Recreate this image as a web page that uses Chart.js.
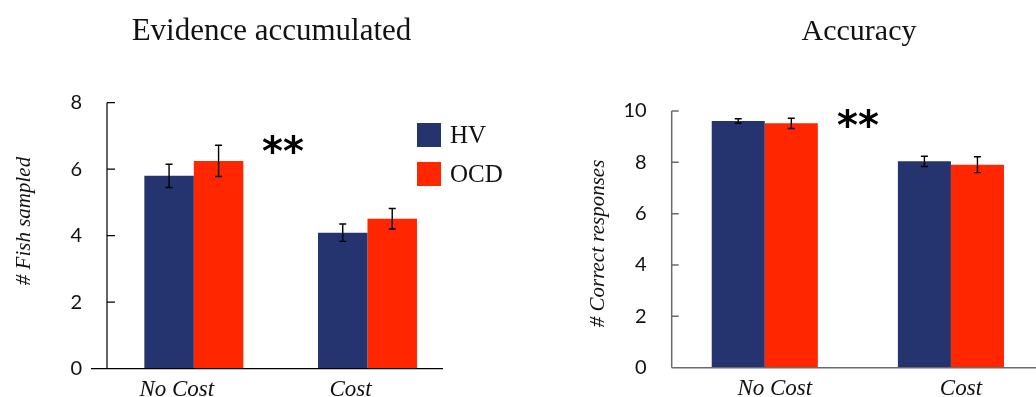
<!DOCTYPE html>
<html>
<head>
<meta charset="utf-8">
<script src="https://cdn.jsdelivr.net/npm/chart.js@4.4.1/dist/chart.umd.min.js"></script>
<style>
  html, body { margin: 0; padding: 0; background: #fff; overflow: hidden; }
  body { width: 1036px; height: 397px; position: relative; }
  #fish { position: absolute; left: 0; top: 0; }
  #acc { position: absolute; left: 518px; top: 0; }
</style>
</head>
<body>
<canvas id="fish" width="518" height="397"></canvas>
<canvas id="acc" width="540" height="397"></canvas>
<script>
// Conditions and groups
const categories = ['No Cost', 'Cost'];
const groups = ['HV', 'OCD'];
const groupColors = ['#25346f', '#ff2600'];

// Evidence accumulated: mean number of fish sampled, with error bars
const fishHV = [5.80, 4.09];
const fishOCD = [6.25, 4.51];
const fishHVErr = [0.35, 0.26];
const fishOCDErr = [0.47, 0.31];
const fishTicks = [0, 2, 4, 6, 8];

// Accuracy: mean number of correct responses, with error bars
const accHV = [9.61, 8.04];
const accOCD = [9.52, 7.91];
const accHVErr = [0.09, 0.20];
const accOCDErr = [0.20, 0.31];
const accTicks = [0, 2, 4, 6, 8, 10];

const SERIF = '"Liberation Serif", "DejaVu Serif", serif';
const SANS = 'Lato, "Open Sans", sans-serif';

// Axis lines, inward tick marks, error bars and annotation text
const decorations = {
  id: 'decorations',
  afterDatasetsDraw(chart, args, o) {
    const {ctx, chartArea} = chart;
    const y = chart.scales.y;
    ctx.save();
    // error bars
    ctx.strokeStyle = '#000';
    ctx.lineWidth = 1.4;
    chart.data.datasets.forEach((ds, i) => {
      chart.getDatasetMeta(i).data.forEach((bar, j) => {
        const v = ds.data[j], e = ds.errors[j];
        const t = y.getPixelForValue(v + e), b = y.getPixelForValue(v - e);
        ctx.beginPath();
        ctx.moveTo(bar.x, t); ctx.lineTo(bar.x, b);
        ctx.moveTo(bar.x - 3.5, t); ctx.lineTo(bar.x + 3.5, t);
        ctx.moveTo(bar.x - 3.5, b); ctx.lineTo(bar.x + 3.5, b);
        ctx.stroke();
      });
    });
    // axes
    ctx.strokeStyle = o.axisColor;
    ctx.lineWidth = o.axisWidth;
    const y0 = y.getPixelForValue(0);
    ctx.beginPath();
    ctx.moveTo(o.xFrom, y0); ctx.lineTo(o.xTo, y0);
    ctx.moveTo(chartArea.left, y0); ctx.lineTo(chartArea.left, y.getPixelForValue(y.max));
    y.ticks.forEach((tk) => {
      const py = y.getPixelForValue(tk.value);
      ctx.moveTo(chartArea.left, py); ctx.lineTo(chartArea.left + o.tickLen, py);
    });
    ctx.stroke();
    ctx.restore();
  },
  afterDraw(chart, args, o) {
    const {ctx} = chart;
    ctx.save();
    ctx.fillStyle = '#111';
    // chart title
    ctx.font = o.titleSize + 'px ' + SERIF;
    ctx.textAlign = 'center';
    ctx.textBaseline = 'alphabetic';
    ctx.fillText(o.title, o.titleX, 40);
    // y axis title
    ctx.save();
    ctx.translate(o.yTitleX, o.yTitleY);
    ctx.rotate(-Math.PI / 2);
    ctx.font = 'italic 21px ' + SERIF;
    ctx.textBaseline = 'middle';
    ctx.fillText(o.yTitle, 0, 0);
    ctx.restore();
    // significance marker
    ctx.fillStyle = '#000';
    ctx.font = 'bold 40px "DejaVu Sans", sans-serif';
    ctx.textAlign = 'left';
    ctx.textBaseline = 'top';
    ctx.fillText('**', o.starX, o.starY);
    // legend
    if (o.legend) {
      chart.data.datasets.forEach((ds, i) => {
        const ly = o.legend.y + i * 39;
        ctx.fillStyle = ds.backgroundColor;
        ctx.fillRect(o.legend.x, ly, 24, 24);
        ctx.fillStyle = '#111';
        ctx.font = '25px ' + SERIF;
        ctx.textBaseline = 'middle';
        ctx.fillText(ds.label, o.legend.x + 33, ly + 13);
      });
    }
    ctx.restore();
  }
};

function makeChart(id, hv, ocd, hvErr, ocdErr, ticks, cfg) {
  return new Chart(document.getElementById(id), {
    type: 'bar',
    data: {
      labels: categories,
      datasets: [
        { label: groups[0], data: hv, errors: hvErr, backgroundColor: groupColors[0] },
        { label: groups[1], data: ocd, errors: ocdErr, backgroundColor: groupColors[1] }
      ]
    },
    options: {
      responsive: false,
      animation: false,
      devicePixelRatio: 1,
      layout: { padding: cfg.padding },
      datasets: { bar: { categoryPercentage: 0.57, barPercentage: 1.0 } },
      scales: {
        x: {
          grid: { display: false },
          border: { display: false },
          ticks: {
            color: '#111',
            font: { family: SERIF, size: 23, style: 'italic' },
            padding: -1,
            labelOffset: cfg.labelOffset,
            maxRotation: 0
          },
          afterFit(s) { s.height = cfg.xHeight; }
        },
        y: {
          min: 0,
          max: ticks[ticks.length - 1],
          afterBuildTicks(s) { s.ticks = ticks.map(v => ({ value: v })); },
          grid: { display: false, drawTicks: false },
          border: { display: false },
          ticks: {
            color: '#111',
            font: { family: SANS, size: 20 },
            padding: 25
          },
          afterFit(s) {
            s.width = cfg.yWidth;
            s.paddingTop = 0;
            s.paddingBottom = 0;
          }
        }
      },
      plugins: {
        legend: { display: false },
        tooltip: { enabled: false },
        decorations: cfg.deco
      }
    },
    plugins: [decorations]
  });
}

makeChart('fish', fishHV, fishOCD, fishHVErr, fishOCDErr, fishTicks, {
  padding: { left: 0, top: 102.7, right: 63.7, bottom: 0 },
  yWidth: 107,
  xHeight: 28.3,
  labelOffset: -17,
  deco: {
    axisColor: '#000', axisWidth: 1.2, tickLen: 8, xFrom: 91, xTo: 443,
    title: 'Evidence accumulated', titleX: 271.5, titleSize: 31,
    yTitle: '# Fish sampled', yTitleX: 24, yTitleY: 221,
    starX: 262, starY: 135,
    legend: { x: 417, y: 123 }
  }
});

makeChart('acc', accHV, accOCD, accHVErr, accOCDErr, accTicks, {
  padding: { left: 0, top: 111, right: 14, bottom: 0 },
  yWidth: 153.7,
  xHeight: 29.3,
  labelOffset: 10,
  deco: {
    axisColor: '#6b6b6b', axisWidth: 1.5, tickLen: 7, xFrom: 153.7, xTo: 540,
    title: 'Accuracy', titleX: 341, titleSize: 30,
    yTitle: '# Correct responses', yTitleX: 80, yTitleY: 243.5,
    starX: 319, starY: 109
  }
});
</script>
</body>
</html>
